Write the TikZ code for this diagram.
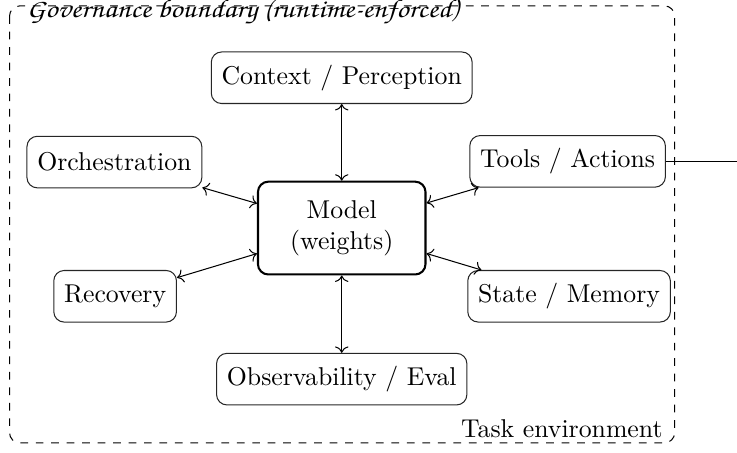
\documentclass[tikz,border=0pt]{standalone}
\usepackage{amsmath,amssymb}
\usepackage{xcolor}
\usepackage{graphicx}
\usepackage{tikz}
\usetikzlibrary{arrows.meta,calc,positioning}
\newcommand{\chancery}{\fontencoding{T1}\fontfamily{pzc}\fontseries{mb}\fontshape{it}\selectfont}

\begin{document}
\begin{tikzpicture}[scale=1.0,
  blk/.style={draw=black!85,rounded corners,inner xsep=4pt,minimum height=20pt},
  core/.style={draw,thick,rounded corners,align=center,minimum width=65pt,minimum height=36pt},
  link/.style={<->,thin}]
  \useasboundingbox (-4.66,-3.06) rectangle (5.39,3.11);
  % boundary
  \coordinate (fnw) at (-4.53,3.03);
  \coordinate (fse) at (4.54,-2.93);
  \draw[dashed,rounded corners] (fnw) rectangle (fse);
  \node[anchor=base west,inner sep=0pt,font=\chancery] (gov) at ($(fnw)+(6.5pt,-4.5pt)$) {\scalebox{1.17}[1]{Governance boundary (runtime-enforced)}};
  \node[anchor=base east,inner sep=0pt] (env) at ($(fse)+(-4.5pt,2pt)$) {Task environment};
  % model and parts
  \node[core] (model) at (0,0) {Model\\(weights)};
  \node[blk] (ctx) at (0,2.05) {Context / Perception};
  \node[blk] (obs) at (0,-2.06) {Observability / Eval};
  \node[blk] (orch) at (-3.10,0.90) {Orchestration};
  \node[blk] (tools) at (3.08,0.91) {Tools / Actions};
  \node[blk] (rec) at (-3.09,-0.93) {Recovery};
  \node[blk] (state) at (3.10,-0.93) {State / Memory};
  \foreach \n in {ctx,obs,orch,tools,rec,state}
    \draw[link] (model) -- (\n);
  % out of the boundary
  \coordinate (exit) at (5.7,0.91);
  \draw[->] (tools.east) -- (tools.east -| exit);
\end{tikzpicture}
\end{document}
